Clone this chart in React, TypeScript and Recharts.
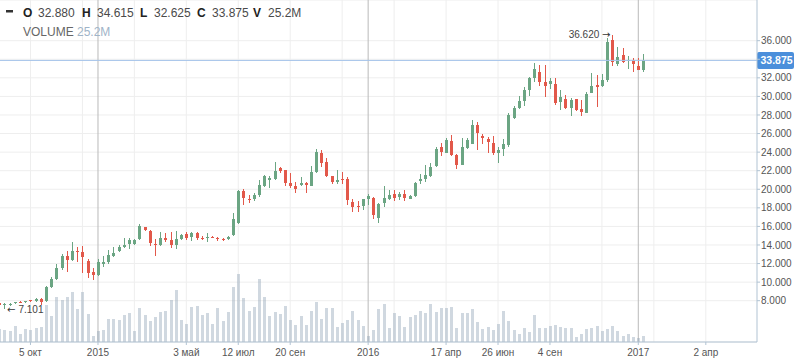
import React from 'react';
import { ComposedChart, Bar, XAxis, YAxis, CartesianGrid, ReferenceLine, ReferenceDot } from 'recharts';

// Weekly bars; week 0 = week of 5 Oct 2014
const FIRST_WEEK = -6;
const opens = [
  7.70, 7.50, 7.55, 7.70, 7.90, 7.82, 8.05, 7.95, 8.18, 7.95,
  9.50, 10.30, 11.50, 12.85, 12.40, 13.30, 13.20, 12.25, 11.10, 10.80,
  12.00, 12.20, 12.80, 13.30, 13.80, 14.10, 14.10, 14.60, 15.90, 15.50,
  14.10, 14.00, 14.70, 14.50, 14.00, 14.60, 15.20, 14.90, 15.30, 14.80,
  14.75, 14.90, 14.80, 14.65, 14.60, 15.10, 16.40, 19.80, 19.00, 19.00,
  19.40, 20.30, 21.00, 21.10, 22.30, 22.10, 20.70, 20.35, 20.50, 20.70,
  20.40, 21.90, 23.90, 22.90, 21.40, 20.80, 21.10, 21.10, 18.60, 18.25,
  18.20, 18.90, 19.10, 16.90, 18.55, 19.00, 19.50, 19.20, 19.50, 19.00,
  19.30, 20.90, 21.10, 21.45, 22.50, 24.50, 23.95, 25.25, 23.70, 22.60,
  24.40, 24.90, 26.90, 25.75, 25.45, 24.95, 23.95, 24.35, 24.80, 27.65,
  28.80, 29.55, 30.70, 31.95, 32.67, 31.50, 31.30, 31.35, 29.40, 29.70,
  28.80, 29.70, 28.60, 28.25, 30.40, 31.25, 31.10, 31.75, 36.05, 33.45,
  34.45, 33.85, 33.90, 33.25, 32.88,
];
const highs = [
  7.75, 7.72, 7.78, 7.90, 7.95, 8.00, 8.12, 8.25, 8.33, 9.55,
  10.50, 11.90, 13.00, 13.30, 14.30, 13.80, 13.90, 12.50, 11.50, 12.50,
  12.80, 13.50, 13.80, 14.00, 14.70, 14.80, 14.60, 16.30, 15.95, 15.60,
  14.60, 15.40, 15.30, 15.40, 15.50, 15.20, 15.40, 15.40, 15.40, 15.00,
  15.30, 15.00, 14.90, 14.70, 15.00, 17.40, 19.90, 20.00, 19.40, 19.60,
  21.00, 21.50, 21.40, 22.90, 22.35, 22.10, 21.80, 20.80, 21.30, 20.75,
  22.50, 24.30, 24.20, 23.40, 21.40, 22.10, 21.90, 21.30, 19.00, 18.70,
  19.00, 19.50, 19.20, 18.50, 20.30, 19.90, 19.90, 19.75, 19.90, 19.40,
  20.80, 21.65, 22.60, 22.80, 24.50, 24.95, 25.50, 25.85, 23.75, 25.50,
  25.50, 27.50, 27.20, 26.00, 25.60, 25.75, 24.60, 25.40, 28.25, 29.00,
  30.00, 31.05, 32.10, 33.55, 33.40, 33.40, 31.95, 31.95, 30.70, 30.10,
  29.80, 29.75, 29.60, 30.50, 32.55, 32.30, 32.40, 36.25, 36.62, 35.35,
  35.25, 34.30, 34.15, 34.10, 34.615,
];
const lows = [
  7.52, 7.101, 7.48, 7.65, 7.72, 7.78, 7.85, 7.90, 7.54, 7.90,
  9.40, 10.20, 11.30, 11.10, 12.30, 12.20, 11.00, 10.40, 10.20, 10.70,
  11.60, 12.00, 12.70, 13.20, 13.70, 13.60, 14.00, 14.50, 15.50, 13.90,
  12.80, 13.90, 14.30, 13.70, 13.60, 14.50, 14.50, 14.40, 14.50, 14.50,
  14.30, 14.70, 14.40, 14.40, 14.50, 15.00, 16.30, 18.30, 18.50, 18.70,
  19.20, 20.20, 20.10, 21.00, 21.70, 20.30, 20.10, 19.60, 20.30, 19.60,
  20.40, 21.70, 22.40, 21.35, 20.60, 20.60, 20.60, 18.30, 17.50, 17.60,
  17.80, 18.30, 16.80, 16.40, 18.10, 18.85, 18.70, 18.85, 18.70, 18.95,
  19.20, 20.60, 20.80, 21.30, 22.40, 23.60, 23.90, 23.60, 22.20, 22.60,
  24.30, 24.85, 24.20, 24.90, 23.90, 23.70, 22.80, 23.60, 24.60, 27.60,
  28.60, 29.00, 30.00, 31.60, 31.10, 29.90, 30.80, 29.10, 28.55, 28.60,
  27.85, 28.40, 27.90, 28.20, 30.35, 28.90, 31.00, 31.50, 33.30, 33.30,
  33.55, 33.00, 32.65, 32.80, 32.625,
];
const closes = [
  7.55, 7.62, 7.68, 7.85, 7.82, 7.95, 7.92, 8.20, 7.83, 9.45,
  10.30, 11.50, 12.80, 12.40, 13.30, 13.20, 12.75, 11.00, 10.80, 12.20,
  12.20, 12.90, 13.10, 13.80, 14.00, 14.50, 14.50, 16.00, 15.60, 14.20,
  14.00, 14.70, 14.50, 14.00, 14.60, 15.10, 14.70, 15.30, 14.70, 14.70,
  14.85, 14.80, 14.60, 14.55, 14.90, 16.80, 19.80, 19.10, 18.90, 19.40,
  20.50, 21.40, 21.20, 22.00, 22.00, 20.70, 20.30, 20.00, 20.70, 20.50,
  21.90, 24.00, 22.80, 21.40, 20.80, 21.00, 21.05, 18.80, 18.10, 18.15,
  18.95, 19.30, 17.20, 18.40, 19.10, 19.40, 19.10, 19.50, 19.10, 19.30,
  20.70, 21.10, 21.50, 22.40, 24.30, 24.05, 25.30, 23.70, 22.60, 24.50,
  25.30, 26.90, 26.10, 25.55, 25.10, 23.95, 24.25, 24.85, 28.00, 28.70,
  29.55, 30.70, 31.95, 32.95, 31.50, 31.15, 31.65, 29.30, 29.90, 28.70,
  29.60, 28.55, 28.35, 30.25, 31.10, 31.05, 31.75, 35.90, 33.70, 34.20,
  33.70, 33.90, 33.45, 32.85, 33.875,
];
// volume, millions
const volumes = [
  53, 49, 45, 65, 33, 52, 49, 56, 61, 149,
  105, 181, 169, 180, 200, 133, 201, 113, 25, 45,
  49, 93, 93, 89, 109, 116, 45, 137, 109, 83,
  101, 119, 125, 169, 209, 89, 73, 141, 145, 109,
  117, 73, 137, 85, 121, 221, 273, 177, 125, 141,
  252, 181, 105, 121, 113, 145, 89, 69, 105, 69,
  125, 161, 93, 137, 137, 61, 77, 89, 125, 89,
  65, 25, 49, 133, 153, 57, 117, 105, 61, 101,
  109, 125, 117, 153, 121, 137, 137, 141, 57, 117,
  117, 133, 81, 53, 61, 49, 73, 125, 85, 49,
  33, 57, 41, 109, 57, 57, 65, 69, 61, 57,
  57, 21, 33, 53, 57, 65, 45, 53, 65, 45,
  25, 33, 21, 17, 25.2,
];

const gridWeeks = [0, 10, 20, 30, 40, 50, 60, 70, 80, 90, 100, 110, 120, 130];
const labelWeeks = [0, 13, 30, 40, 50, 65, 80, 90, 100, 117, 130];
const labelTexts = ['5 окт', '2015', '3 май', '12 июл', '20 сен', '2016', '17 апр', '26 июн', '4 сен', '2017', '2 апр'];
const yearWeeks = [13, 65, 117];
const priceTicks = [8, 10, 12, 14, 16, 18, 20, 22, 24, 26, 28, 30, 32, 34, 36];

const data = opens.map((o, i) => ({
  week: FIRST_WEEK + i,
  open: o,
  high: highs[i],
  low: lows[i],
  close: closes[i],
  range: [lows[i], highs[i]],
  volume: volumes[i],
}));

const last = data[data.length - 1];
let hiIdx = 0;
let loIdx = 0;
data.forEach((d, i) => {
  if (d.high > data[hiIdx].high) hiIdx = i;
  if (d.low < data[loIdx].low) loIdx = i;
});

const FONT = '"Liberation Sans", Arial, sans-serif';
const ARROW_FONT = '"DejaVu Sans", sans-serif';
const UP = '#6ba583';
const DOWN = '#e2584a';
const GRID = '#eeeeee';
const AXIS = '#b1c3d3';
const TEXT = '#555555';

const Candle = (props: any) => {
  const { x, y, width, height, payload } = props;
  if (x == null || y == null || !payload) return null;
  const { open, close, high, low } = payload;
  const top = Math.min(y, y + height);
  const h = Math.abs(height);
  const py = (v: number) => top + ((high - v) / (high - low)) * h;
  const c = Math.round(x + width / 2);
  const color = close >= open ? UP : DOWN;
  const bTop = Math.round(py(Math.max(open, close)));
  const bBot = Math.round(py(Math.min(open, close)));
  return (
    <g>
      <line x1={c + 0.5} x2={c + 0.5} y1={Math.round(top)} y2={Math.round(top + h)} stroke={color} strokeWidth={1} />
      <rect x={c - 1} y={bTop} width={3} height={Math.max(1, bBot - bTop)} fill={color} />
    </g>
  );
};

const VolBar = (props: any) => {
  const { x, y, width, height } = props;
  if (x == null || y == null) return null;
  const c = Math.round(x + width / 2);
  const top = Math.round(Math.min(y, y + height));
  const bottom = Math.round(Math.max(y, y + height));
  return <rect x={c - 1} y={top} width={3} height={Math.max(0, bottom - top)} fill="#8ea2b4" fillOpacity={0.42} />;
};

const PriceTag = (props: any) => {
  const vb = props.viewBox || {};
  const x0 = (vb.x || 0) + (vb.width || 0);
  const cy = vb.y || 0;
  return (
    <g>
      <rect x={x0} y={cy - 8.5} width={37} height={17} rx={2} fill="#4b8fdb" />
      <text x={x0 + 3.5} y={cy} dy="0.36em" fill="#ffffff" fontSize={10.5} fontWeight="bold" fontFamily={FONT}>
        {last.close.toFixed(3)}
      </text>
    </g>
  );
};

const HighMark = (props: any) => (
  <g>
    <text x={props.cx - 13} y={props.cy} dy="0.35em" textAnchor="end" fontSize={10} fill="#444" fontFamily={FONT}>
      {data[hiIdx].high.toFixed(3)}
    </text>
    <text x={props.cx - 2} y={props.cy} dy="0.35em" textAnchor="end" fontSize={10} fill="#333" fontFamily={ARROW_FONT}>
      {'\u2192'}
    </text>
  </g>
);

const LowMark = (props: any) => (
  <g>
    <text x={props.cx + 2.5} y={props.cy} dy="0.35em" textAnchor="start" fontSize={10} fill="#333" fontFamily={ARROW_FONT}>
      {'\u2190'}
    </text>
    <text x={props.cx + 14} y={props.cy} dy="0.35em" textAnchor="start" fontSize={10} fill="#444" fontFamily={FONT}>
      {data[loIdx].low.toFixed(3)}
    </text>
  </g>
);

const fmtVol = (v: number) => `${v.toFixed(1)}M`;

export default function App() {
  const legend: [string, string, number, number][] = [
    ['O', last.open.toFixed(3), 23, 38],
    ['H', last.high.toFixed(3), 82, 97],
    ['L', last.low.toFixed(3), 140, 154],
    ['C', last.close.toFixed(3), 197, 212],
    ['V', fmtVol(last.volume), 253, 268],
  ];
  return (
    <div style={{ position: 'absolute', left: 0, top: 0, width: 798, height: 363, background: '#ffffff' }}>
      <ComposedChart
        width={798}
        height={363}
        data={data}
        margin={{ top: 0, right: 0, bottom: 0, left: 0 }}
        barGap={-3}
        barSize={3}
      >
        <CartesianGrid yAxisId="price" vertical={false} stroke={GRID} />
        {gridWeeks.map((w) => (
          <ReferenceLine key={`g${w}`} x={w} yAxisId="price" stroke={GRID} zIndex={-100} />
        ))}
        {yearWeeks.map((w) => (
          <ReferenceLine key={`y${w}`} x={w} yAxisId="price" stroke="#b9b9b9" zIndex={-90} />
        ))}
        <XAxis
          dataKey="week"
          type="number"
          domain={[-5.863, 139.85]}
          allowDataOverflow
          ticks={labelWeeks}
          interval={0}
          tickFormatter={(v: number) => labelTexts[labelWeeks.indexOf(v)] ?? ''}
          height={21}
          tickSize={3}
          tickMargin={4}
          stroke={AXIS}
          tick={{ fill: TEXT, fontSize: 10, fontFamily: FONT }}
        />
        <YAxis
          yAxisId="price"
          orientation="right"
          width={41}
          domain={[3.552, 40.383]}
          allowDataOverflow
          ticks={priceTicks}
          interval={0}
          tickFormatter={(v: number) => (v === 34 ? '' : v.toFixed(3))}
          tickSize={3}
          tickMargin={1}
          stroke={AXIS}
          tick={{ fill: TEXT, fontSize: 10, fontFamily: FONT }}
        />
        <YAxis yAxisId="vol" hide domain={[0, 1368]} allowDataOverflow />
        <Bar yAxisId="vol" dataKey="volume" barSize={3} shape={VolBar} isAnimationActive={false} />
        <Bar yAxisId="price" dataKey="range" barSize={3} shape={Candle} isAnimationActive={false} />
        <ReferenceLine yAxisId="price" y={last.close} stroke="#a6c4ea" label={PriceTag} />
        <ReferenceDot yAxisId="price" x={data[hiIdx].week} y={data[hiIdx].high} r={1} shape={HighMark} />
        <ReferenceDot yAxisId="price" x={data[loIdx].week} y={data[loIdx].low} r={1} shape={LowMark} ifOverflow="visible" />
      </ComposedChart>
      <svg width={798} height={45} style={{ position: 'absolute', left: 0, top: 0, pointerEvents: 'none' }}>
        <rect x={6} y={10} width={7} height={2.5} fill="#333" />
        {legend.map(([k, v, kx, vx]) => (
          <g key={k} fontFamily={FONT} fontSize={12}>
            <text x={kx} y={16.5} fill="#222" fontWeight="bold">{k}</text>
            <text x={vx} y={16.5} fill="#4a4a4a">{v}</text>
          </g>
        ))}
        <text x={23} y={35.5} fontFamily={FONT} fontSize={12} fill="#666">VOLUME</text>
        <text x={77} y={35.5} fontFamily={FONT} fontSize={12} fill="#9fb4c8">{fmtVol(last.volume)}</text>
      </svg>
    </div>
  );
}
